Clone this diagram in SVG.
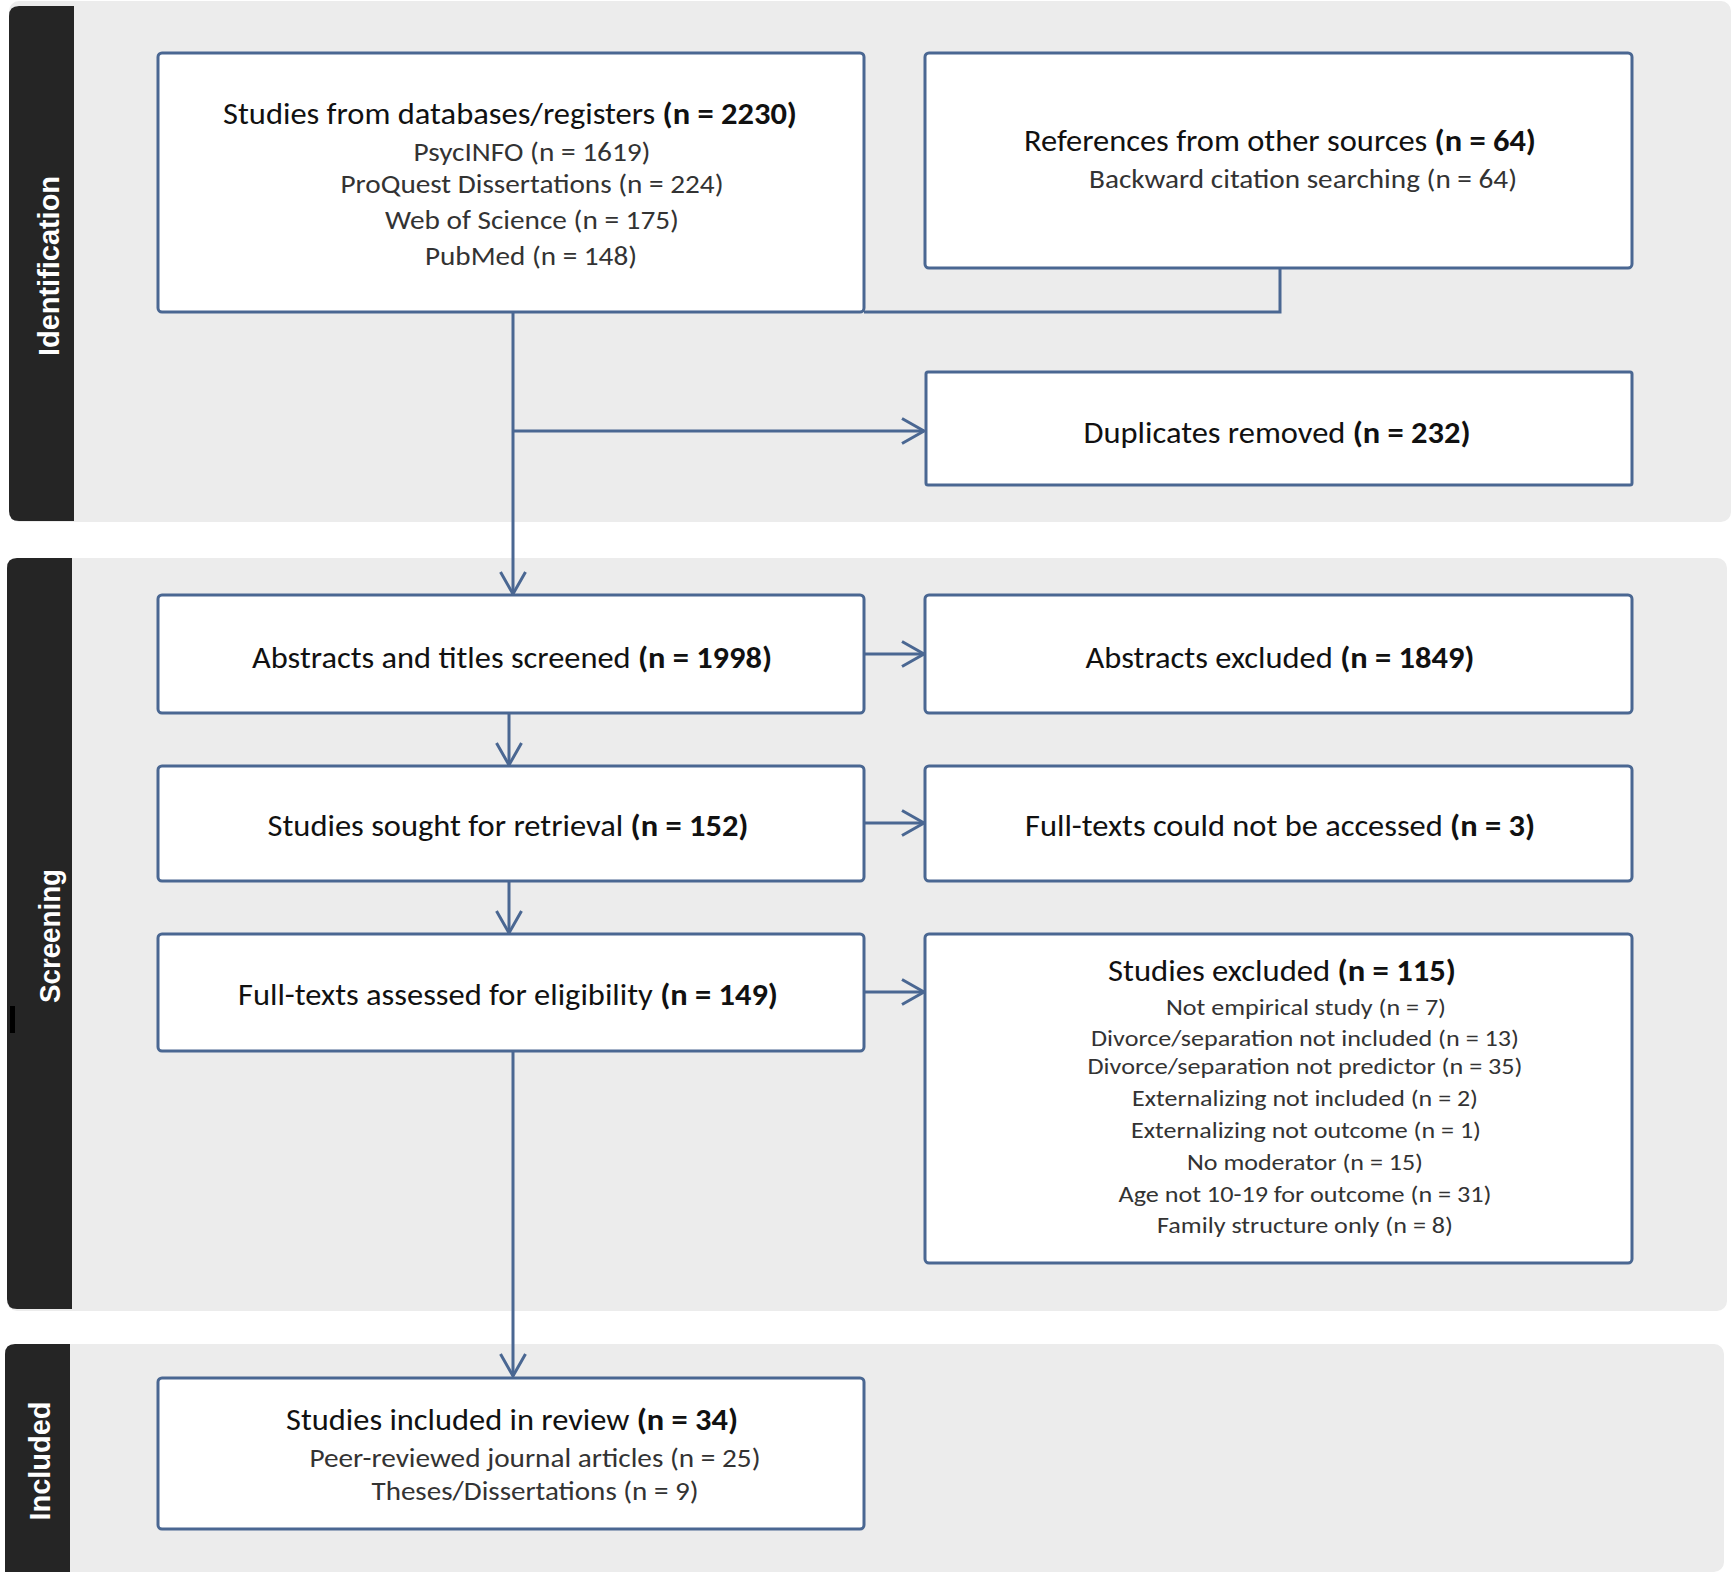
<svg xmlns="http://www.w3.org/2000/svg" width="1733" height="1574" viewBox="0 0 1733 1574">
<defs>
<style>
.panel{fill:#ececec}
.bar{fill:#252525}
.box{fill:#ffffff;stroke:#4a6792;stroke-width:3}
.conn{fill:none;stroke:#4a6792;stroke-width:3}
.lbl{font-family:"Liberation Sans",Arial,sans-serif;font-size:29px;font-weight:bold;fill:#ffffff;text-anchor:middle}
.t{font-family:Carlito,"Liberation Sans",Arial,sans-serif;font-size:30px;fill:#111111;text-anchor:middle}
.s{font-family:Carlito,"Liberation Sans",Arial,sans-serif;font-size:26px;fill:#333333;text-anchor:middle}
.x{font-size:23px}
.b{font-weight:bold}
</style>
<marker id="arr" markerUnits="userSpaceOnUse" markerWidth="30" markerHeight="30" viewBox="-26 -15 30 30" refX="0" refY="0" orient="auto">
<path d="M-22,-12.5 L0,0 L-22,12.5" fill="none" stroke="#4a6792" stroke-width="3"/>
</marker>
</defs>
<rect x="0" y="0" width="1733" height="1574" fill="#ffffff"/>
<g id="phase-identification">
<rect class="panel" x="9" y="1" width="1722" height="521" rx="10"/>
<path class="bar" d="M74,6 L74,521 L19,521 Q9,521 9,511 L9,16 Q9,6 19,6 Z"/>
<text class="lbl" transform="translate(59,266) rotate(-90)" textLength="180" lengthAdjust="spacingAndGlyphs">Identification</text>
</g>
<g id="phase-screening">
<rect class="panel" x="7" y="558" width="1720" height="753" rx="10"/>
<path class="bar" d="M72,558 L72,1309 L17,1309 Q7,1309 7,1299 L7,568 Q7,558 17,558 Z"/>
<rect x="10" y="1006" width="5" height="27" fill="#000000"/>
<text class="lbl" transform="translate(60,936) rotate(-90)" textLength="134" lengthAdjust="spacingAndGlyphs">Screening</text>
</g>
<g id="phase-included">
<rect class="panel" x="5" y="1344" width="1719" height="228" rx="10"/>
<path class="bar" d="M70,1344 L70,1572 L5,1572 L5,1354 Q5,1344 15,1344 Z"/>
<text class="lbl" transform="translate(50,1461) rotate(-90)" textLength="119" lengthAdjust="spacingAndGlyphs">Included</text>
</g>
<g id="connectors">
<polyline class="conn" points="1280,268 1280,312 864,312"/>
<line class="conn" x1="513" y1="312" x2="513" y2="594" marker-end="url(#arr)"/>
<line class="conn" x1="513" y1="431" x2="924" y2="431" marker-end="url(#arr)"/>
<line class="conn" x1="864" y1="654" x2="924" y2="654" marker-end="url(#arr)"/>
<line class="conn" x1="509" y1="713" x2="509" y2="765" marker-end="url(#arr)"/>
<line class="conn" x1="864" y1="823" x2="924" y2="823" marker-end="url(#arr)"/>
<line class="conn" x1="509" y1="881" x2="509" y2="933" marker-end="url(#arr)"/>
<line class="conn" x1="864" y1="992" x2="924" y2="992" marker-end="url(#arr)"/>
<line class="conn" x1="513" y1="1051" x2="513" y2="1376" marker-end="url(#arr)"/>
</g>
<g id="node-databases">
<rect class="box" x="158" y="53" width="706" height="259" rx="4"/>
<text class="t" x="510" y="124" textLength="574" lengthAdjust="spacingAndGlyphs">Studies from databases/registers <tspan class="b">(n = 2230)</tspan></text>
<text class="s" x="532" y="161" textLength="237" lengthAdjust="spacingAndGlyphs">PsycINFO (n = 1619)</text>
<text class="s" x="532" y="193" textLength="383" lengthAdjust="spacingAndGlyphs">ProQuest Dissertations (n = 224)</text>
<text class="s" x="532" y="229" textLength="294" lengthAdjust="spacingAndGlyphs">Web of Science (n = 175)</text>
<text class="s" x="531" y="265" textLength="212" lengthAdjust="spacingAndGlyphs">PubMed (n = 148)</text>
</g>
<g id="node-other-sources">
<rect class="box" x="925" y="53" width="707" height="215" rx="4"/>
<text class="t" x="1280" y="151" textLength="512" lengthAdjust="spacingAndGlyphs">References from other sources <tspan class="b">(n = 64)</tspan></text>
<text class="s" x="1303" y="188" textLength="428" lengthAdjust="spacingAndGlyphs">Backward citation searching (n = 64)</text>
</g>
<g id="node-duplicates">
<rect class="box" x="926" y="372" width="706" height="113" rx="2"/>
<text class="t" x="1277" y="443" textLength="387" lengthAdjust="spacingAndGlyphs">Duplicates removed <tspan class="b">(n = 232)</tspan></text>
</g>
<g id="node-screened">
<rect class="box" x="158" y="595" width="706" height="118" rx="4"/>
<text class="t" x="512" y="668" textLength="520" lengthAdjust="spacingAndGlyphs">Abstracts and titles screened <tspan class="b">(n = 1998)</tspan></text>
</g>
<g id="node-abstracts-excluded">
<rect class="box" x="925" y="595" width="707" height="118" rx="4"/>
<text class="t" x="1280" y="668" textLength="389" lengthAdjust="spacingAndGlyphs">Abstracts excluded <tspan class="b">(n = 1849)</tspan></text>
</g>
<g id="node-sought">
<rect class="box" x="158" y="766" width="706" height="115" rx="4"/>
<text class="t" x="508" y="836" textLength="481" lengthAdjust="spacingAndGlyphs">Studies sought for retrieval <tspan class="b">(n = 152)</tspan></text>
</g>
<g id="node-not-accessed">
<rect class="box" x="925" y="766" width="707" height="115" rx="4"/>
<text class="t" x="1280" y="836" textLength="510" lengthAdjust="spacingAndGlyphs">Full-texts could not be accessed <tspan class="b">(n = 3)</tspan></text>
</g>
<g id="node-assessed">
<rect class="box" x="158" y="934" width="706" height="117" rx="4"/>
<text class="t" x="508" y="1005" textLength="540" lengthAdjust="spacingAndGlyphs">Full-texts assessed for eligibility <tspan class="b">(n = 149)</tspan></text>
</g>
<g id="node-studies-excluded">
<rect class="box" x="925" y="934" width="707" height="329" rx="4"/>
<text class="t" x="1282" y="981" textLength="348" lengthAdjust="spacingAndGlyphs">Studies excluded <tspan class="b">(n = 115)</tspan></text>
<text class="s x" x="1306" y="1015" textLength="280" lengthAdjust="spacingAndGlyphs">Not empirical study (n = 7)</text>
<text class="s x" x="1305" y="1046" textLength="428" lengthAdjust="spacingAndGlyphs">Divorce/separation not included (n = 13)</text>
<text class="s x" x="1305" y="1074" textLength="435" lengthAdjust="spacingAndGlyphs">Divorce/separation not predictor (n = 35)</text>
<text class="s x" x="1305" y="1106" textLength="346" lengthAdjust="spacingAndGlyphs">Externalizing not included (n = 2)</text>
<text class="s x" x="1306" y="1138" textLength="350" lengthAdjust="spacingAndGlyphs">Externalizing not outcome (n = 1)</text>
<text class="s x" x="1305" y="1170" textLength="236" lengthAdjust="spacingAndGlyphs">No moderator (n = 15)</text>
<text class="s x" x="1305" y="1202" textLength="373" lengthAdjust="spacingAndGlyphs">Age not 10-19 for outcome (n = 31)</text>
<text class="s x" x="1305" y="1233" textLength="296" lengthAdjust="spacingAndGlyphs">Family structure only (n = 8)</text>
</g>
<g id="node-included">
<rect class="box" x="158" y="1378" width="706" height="151" rx="4"/>
<text class="t" x="512" y="1430" textLength="452" lengthAdjust="spacingAndGlyphs">Studies included in review <tspan class="b">(n = 34)</tspan></text>
<text class="s" x="535" y="1467" textLength="451" lengthAdjust="spacingAndGlyphs">Peer-reviewed journal articles (n = 25)</text>
<text class="s" x="535" y="1500" textLength="327" lengthAdjust="spacingAndGlyphs">Theses/Dissertations (n = 9)</text>
</g>
</svg>
